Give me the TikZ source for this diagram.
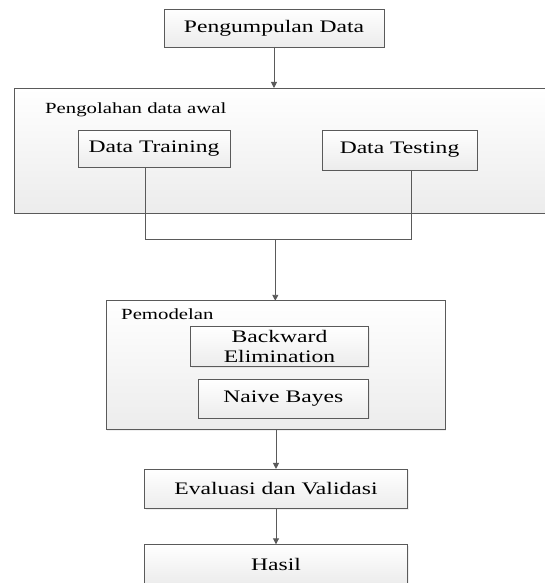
\documentclass[tikz,border=0pt]{standalone}
\usepackage{fontspec}
\setmainfont[FakeStretch=1.34]{Liberation Serif}
\usetikzlibrary{arrows.meta,shadows}
\definecolor{linegray}{HTML}{5A5A5A}
\definecolor{fillbot}{HTML}{ECECEC}
\tikzset{
  boxstyle/.style={draw=linegray, line width=0.9pt, top color=white, bottom color=fillbot,
    inner sep=0pt, outer sep=0pt, font=\fontsize{17.6}{21}\selectfont,
    drop shadow={opacity=0.12, shadow xshift=1.2pt, shadow yshift=-1.2pt}},
  groupstyle/.style={boxstyle},
  labelstyle/.style={font=\fontsize{15.5}{18}\selectfont, inner sep=0pt, anchor=base west},
  conn/.style={draw=linegray, line width=0.9pt},
  arr/.style={conn, -{Triangle[length=6pt,width=6pt]}}
}
\begin{document}
\begin{tikzpicture}[x=1pt,y=-1pt]
\useasboundingbox (0,0) rectangle (544,583);
\fill[white] (0,0) rectangle (544,583);
% top box
\node[boxstyle, minimum width=220pt, minimum height=38pt] (pd) at (274,28) {Pengumpulan Data};
% group 1
\node[groupstyle, minimum width=546pt, minimum height=125pt] (pen) at (287,150.5) {};
\node[labelstyle] (penl) at (45,113.3) {Pengolahan data awal};
\node[boxstyle, minimum width=152pt, minimum height=37pt] (dt) at (154,148.5) {Data Training};
\node[boxstyle, minimum width=155pt, minimum height=40pt] (dts) at (399.5,150) {Data Testing};
% group 2
\node[groupstyle, minimum width=339pt, minimum height=129pt] (pem) at (275.5,365.3) {};
\node[labelstyle] (peml) at (121,319) {Pemodelan};
\node[boxstyle, minimum width=177.6pt, minimum height=39.6pt, align=center] (be) at (279.5,346.5) {Backward\\[-0.5pt]Elimination};
\node[boxstyle, minimum width=170pt, minimum height=38.7pt] (nb) at (283.3,398.7) {Naive Bayes};
% lower boxes
\node[boxstyle, minimum width=263.4pt, minimum height=39.7pt] (ev) at (276,488.8) {Evaluasi dan Validasi};
\node[boxstyle, minimum width=263.4pt, minimum height=40pt] (ha) at (276,564.3) {Hasil};
% connectors
\draw[arr] (pd.south) -- (pd.south |- pen.north);
\coordinate (jl) at (145,239);
\coordinate (jr) at (411.7,239);
\coordinate (jm) at (275.3,239);
\draw[conn] (dt.south -| jl) -- (jl) -- (jr) -- (dts.south -| jr);
\draw[arr] (jm) -- (jm |- pem.north);
\draw[arr] (pem.south -| ev.north) -- (ev.north);
\draw[arr] (ev.south) -- (ha.north);
\end{tikzpicture}
\end{document}
